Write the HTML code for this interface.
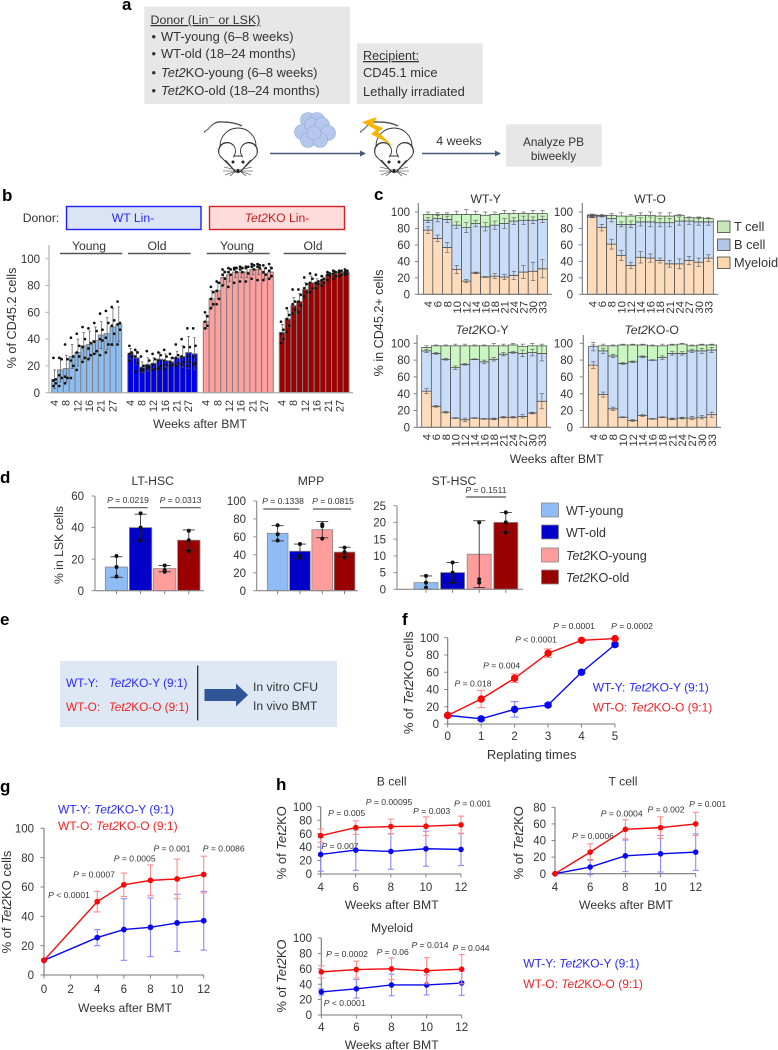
<!DOCTYPE html>
<html lang="en">
<head>
<meta charset="utf-8">
<title>Tet2KO bone marrow transplant figure</title>
<style>
html,body{margin:0;padding:0;background:#fff;}
svg{display:block;filter:blur(0.3px);}
text{font-family:"Liberation Sans",sans-serif;fill:#333;font-size:12.2px;}
.ltr{font-weight:bold;font-size:17px;fill:#000;}
.p{font-size:8.6px;fill:#333;text-anchor:middle;}
.mid{text-anchor:middle;}
.blue{fill:#2a2aff;}
.red{fill:#f02424;}
.t{font-size:11.8px;}
.a{font-size:12.9px;}
.big{font-size:13px;}
.i{font-style:italic;}
</style>
</head>
<body>
<svg id="fig" width="778" height="1050" viewBox="0 0 778 1050" xmlns="http://www.w3.org/2000/svg">
<defs>
<g id="mouse">
<path d="M-34,132 C-28,130 -26,121 -16,122 C-8,122 -2,123 4,126" fill="none" stroke="#555" stroke-width="1.6"/>
<path d="M-33,132 C-28,130 -26,122 -16,123 C-8,123 -2,124 4,127" fill="none" stroke="#fff" stroke-width="0.6"/>
<ellipse cx="0" cy="146" rx="18" ry="18" fill="#fff" stroke="#333" stroke-width="0.9"/>
<path d="M-16,156 L-3,171 Q0,174 3,171 L16,156 Z" fill="#fff" stroke="#333" stroke-width="0.9"/>
<circle cx="-11" cy="151" r="8.5" fill="#fff" stroke="#333" stroke-width="0.9"/>
<circle cx="11" cy="151" r="8.5" fill="#fff" stroke="#333" stroke-width="0.9"/>
<path d="M-17,156 Q-11,146 -5,148 L-5,160 L-16,160 Z" fill="#fff"/>
<path d="M17,156 Q11,146 5,148 L5,160 L16,160 Z" fill="#fff"/>
<path d="M-19,153 A8.5,8.5 0 0 1 -4,146 M19,153 A8.5,8.5 0 0 0 4,146 M-18,156 L-3,171 Q0,174 3,171 L18,156" fill="none" stroke="#333" stroke-width="0.9"/>
<circle cx="-5" cy="162" r="1.5" fill="#222"/><circle cx="5" cy="162" r="1.5" fill="#222"/>
<circle cx="0" cy="170.5" r="1.6" fill="#222"/>
<path d="M-2,170 L-14,167 M-2,171 L-15,171 M-2,171 L-13,175 M-2,171 L-8,176 M2,170 L14,167 M2,171 L15,171 M2,171 L13,175 M2,171 L8,176" stroke="#333" stroke-width="0.6" fill="none"/>
</g>
</defs>

<!-- panel a -->
<g>
<text class="ltr" x="122" y="10">a</text>
<rect x="144.3" y="6.7" width="205.7" height="97.3" fill="#e7e7e7"/>
<text x="150.5" y="24" text-decoration="underline" style="font-size:12.4px">Donor (Lin⁻ or LSK)</text>
<text x="151.5" y="41" class="a">•</text>
<text x="161" y="41" class="a">WT-young (6–8 weeks)</text>
<text x="151.5" y="58" class="a">•</text>
<text x="161" y="58" class="a">WT-old (18–24 months)</text>
<text x="151.5" y="77" class="a">•</text>
<text x="161" y="77" class="a"><tspan class="i">Tet2</tspan>KO-young (6–8 weeks)</text>
<text x="151.5" y="95" class="a">•</text>
<text x="161" y="95" class="a"><tspan class="i">Tet2</tspan>KO-old (18–24 months)</text>
<rect x="357" y="43.3" width="125.7" height="60.7" fill="#e7e7e7"/>
<text x="363" y="60" text-decoration="underline" style="font-size:12.6px">Recipient:</text>
<text x="363" y="77" class="a">CD45.1 mice</text>
<text x="363" y="96" class="a">Lethally irradiated</text>
<use href="#mouse" transform="translate(238,0)"/>
<use href="#mouse" transform="translate(394,0)"/>
<g fill="#b6c7ec" stroke="#8fa6dd" stroke-width="0.6">
<circle cx="308" cy="120" r="7.5"/><circle cx="317" cy="120" r="7.5"/><circle cx="302" cy="132" r="7.5"/><circle cx="312" cy="125" r="7.5"/><circle cx="322" cy="125" r="7.5"/><circle cx="328" cy="133" r="7.5"/><circle cx="308" cy="140" r="7.5"/><circle cx="320" cy="140" r="7.5"/><circle cx="314" cy="133" r="7"/>
</g>
<polygon points="362,122 377,117 373,124 383,128 378,132 393,146 371,134 376,130" fill="#f7b500"/>
<g><line x1="270" y1="153.5" x2="362" y2="153.5" stroke="#44597a" stroke-width="1.5"/><polygon points="366,153.5 360,150.5 360,156.5" fill="#44597a"/></g>
<g><line x1="422" y1="153.5" x2="497" y2="153.5" stroke="#44597a" stroke-width="1.5"/><polygon points="501,153.5 495,150.5 495,156.5" fill="#44597a"/></g>
<text x="459" y="145" class="mid" style="font-size:12.4px">4 weeks</text>
<rect x="506" y="124.3" width="95.7" height="42.4" fill="#e7e7e7"/>
<text x="553.5" y="146" class="mid t">Analyze PB</text>
<text x="553.5" y="160" class="mid t">biweekly</text>
</g>

<!-- panel b -->
<g id="panelB">
<text class="ltr" x="2" y="201">b</text>
<text x="22.7" y="222">Donor:</text>
<rect x="66.5" y="206.5" width="134.5" height="23" fill="#dbe4f4" stroke="#2020ff" stroke-width="1.4"/>
<text x="133" y="222" class="mid blue">WT Lin-</text>
<rect x="209.5" y="206.5" width="135" height="23" fill="#ffdcdc" stroke="#d02020" stroke-width="1.4"/>
<text x="277" y="222" class="mid" style="fill:#c81e1e"><tspan class="i">Tet2</tspan>KO Lin-</text>
<text x="89" y="250" class="mid">Young</text>
<text x="157" y="250" class="mid">Old</text>
<text x="237" y="250" class="mid">Young</text>
<text x="313" y="250" class="mid">Old</text>
<g stroke="#555" stroke-width="1.4">
<line x1="60" x2="122.3" y1="253.5" y2="253.5"/><line x1="128" x2="190.7" y1="253.5" y2="253.5"/><line x1="206.7" x2="269.7" y1="253.5" y2="253.5"/><line x1="283.7" x2="346" y1="253.5" y2="253.5"/>
</g>
<text x="200" y="428" class="mid">Weeks after BMT</text>
<text transform="translate(16,318) rotate(-90)" class="mid" style="font-size:12.7px">% of CD45.2 cells</text>
</g>

<!-- panel c -->
<g id="panelC">
<text class="ltr" x="374" y="200">c</text>
<text x="485.7" y="203" class="mid">WT-Y</text>
<text x="650" y="203" class="mid">WT-O</text>
<text x="482" y="334" class="mid"><tspan class="i">Tet2</tspan>KO-Y</text>
<text x="651.7" y="334" class="mid"><tspan class="i">Tet2</tspan>KO-O</text>
<text transform="translate(383,323) rotate(-90)" class="mid" style="font-size:12.6px">% in CD45.2+ cells</text>
<text x="556.7" y="463" class="mid">Weeks after BMT</text>
<g>
<rect x="717.5" y="221" width="12.5" height="11.5" fill="#c8e6b8" stroke="#444" stroke-width="0.8"/>
<text x="734" y="231" style="font-size:12.8px">T cell</text>
<rect x="717.5" y="239" width="12.5" height="11.5" fill="#b4c7e7" stroke="#444" stroke-width="0.8"/>
<text x="734" y="249" style="font-size:12.8px">B cell</text>
<rect x="717.5" y="257" width="12.5" height="11.5" fill="#fad7ac" stroke="#444" stroke-width="0.8"/>
<text x="734" y="267" style="font-size:12.8px">Myeloid</text>
</g>
</g>

<!-- panel d -->
<g id="panelD">
<text class="ltr" x="0" y="483">d</text>
<text x="152.7" y="485" class="mid">LT-HSC</text>
<text x="311" y="485" class="mid">MPP</text>
<text x="454" y="485" class="mid">ST-HSC</text>
<text transform="translate(63,545) rotate(-90)" class="mid">% in LSK cells</text>
<g stroke="#555" stroke-width="1.2">
<line x1="108" x2="147.7" y1="507.7" y2="507.7"/><line x1="160" x2="200.7" y1="507.7" y2="507.7"/>
<line x1="263.3" x2="299.3" y1="509" y2="509"/><line x1="313" x2="351" y1="509" y2="509"/>
<line x1="466" x2="506" y1="497" y2="497"/>
</g>
<text x="128" y="503" class="p"><tspan class="i">P</tspan> = 0.0219</text>
<text x="180.5" y="503" class="p"><tspan class="i">P</tspan> = 0.0313</text>
<text x="283" y="504" class="p"><tspan class="i">P</tspan> = 0.1338</text>
<text x="333" y="504" class="p"><tspan class="i">P</tspan> = 0.0815</text>
<text x="486" y="493" class="p"><tspan class="i">P</tspan> = 0.1511</text>
<g>
<rect x="541.5" y="503" width="17" height="14" fill="#8fbcf4" stroke="#888" stroke-width="0.8"/>
<text x="566" y="515" style="font-size:12.6px">WT-young</text>
<rect x="541.5" y="525" width="17" height="14" fill="#0000c8" stroke="#888" stroke-width="0.8"/>
<text x="566" y="537" style="font-size:12.6px">WT-old</text>
<rect x="541.5" y="548" width="17" height="14" fill="#ff9c9c" stroke="#888" stroke-width="0.8"/>
<text x="566" y="560" style="font-size:12.6px"><tspan class="i">Tet2</tspan>KO-young</text>
<rect x="541.5" y="570" width="17" height="14" fill="#990000" stroke="#888" stroke-width="0.8"/>
<text x="566" y="582" style="font-size:12.6px"><tspan class="i">Tet2</tspan>KO-old</text>
</g>
</g>

<!-- panel e -->
<g>
<text class="ltr" x="0" y="625">e</text>
<rect x="60" y="661" width="277" height="66" fill="#dde8f4"/>
<text x="66" y="687" class="blue t">WT-Y:</text>
<text x="108.7" y="687" class="blue t"><tspan class="i">Tet2</tspan>KO-Y (9:1)</text>
<text x="66" y="711" class="red t">WT-O:</text>
<text x="108.7" y="711" class="red t"><tspan class="i">Tet2</tspan>KO-O (9:1)</text>
<line x1="197.7" x2="197.7" y1="665.5" y2="720.5" stroke="#222" stroke-width="1.2"/>
<polygon points="204.5,689 236,689 236,683.5 248,695 236,706.5 236,701 204.5,701" fill="#2f5597"/>
<text x="253" y="691">In vitro CFU</text>
<text x="253" y="710">In vivo BMT</text>
</g>

<!-- panel f -->
<g id="panelF">
<text class="ltr" x="402" y="625">f</text>
<text transform="translate(413,682.7) rotate(-90)" class="mid big">% of <tspan class="i">Tet2</tspan>KO cells</text>
<text x="531.7" y="759" class="mid big">Replating times</text>
<text x="592.7" y="691.7" class="blue" style="font-size:12px">WT-Y: <tspan class="i">Tet2</tspan>KO-Y (9:1)</text>
<text x="592.7" y="711.7" class="red" style="font-size:12px">WT-O: <tspan class="i">Tet2</tspan>KO-O (9:1)</text>
<text x="473" y="686.7" class="p"><tspan class="i">P</tspan> = 0.018</text>
<text x="501.7" y="668.7" class="p"><tspan class="i">P</tspan> = 0.004</text>
<text x="536" y="642.7" class="p"><tspan class="i">P</tspan> &lt; 0.0001</text>
<text x="574" y="629" class="p"><tspan class="i">P</tspan> = 0.0001</text>
<text x="632" y="629" class="p"><tspan class="i">P</tspan> = 0.0002</text>
</g>

<!-- panel g -->
<g id="panelG">
<text class="ltr" x="0" y="792">g</text>
<text x="58" y="813.3" class="blue" style="font-size:12px">WT-Y: <tspan class="i">Tet2</tspan>KO-Y (9:1)</text>
<text x="58" y="830" class="red" style="font-size:12px">WT-O: <tspan class="i">Tet2</tspan>KO-O (9:1)</text>
<text transform="translate(11,902) rotate(-90)" class="mid big">% of <tspan class="i">Tet2</tspan>KO cells</text>
<text x="125" y="1012" class="mid">Weeks after BMT</text>
<text x="69" y="898" class="p"><tspan class="i">P</tspan> &lt; 0.0001</text>
<text x="94" y="877.7" class="p"><tspan class="i">P</tspan> = 0.0007</text>
<text x="134.7" y="861.7" class="p"><tspan class="i">P</tspan> = 0.0005</text>
<text x="172" y="851.7" class="p"><tspan class="i">P</tspan> = 0.001</text>
<text x="223.7" y="851.7" class="p"><tspan class="i">P</tspan> = 0.0086</text>
</g>

<!-- panel h -->
<g id="panelH">
<text class="ltr" x="276" y="790">h</text>
<text x="391.7" y="785.7" class="mid">B cell</text>
<text transform="translate(286,842.7) rotate(-90)" class="mid big">% of <tspan class="i">Tet2</tspan>KO</text>
<text x="391.7" y="909" class="mid">Weeks after BMT</text>
<text x="346.7" y="816" class="p"><tspan class="i">P</tspan> = 0.005</text>
<text x="389" y="805" class="p"><tspan class="i">P</tspan> = 0.00095</text>
<text x="431.7" y="814" class="p"><tspan class="i">P</tspan> = 0.003</text>
<text x="472.7" y="806.7" class="p"><tspan class="i">P</tspan> = 0.001</text>
<text x="340" y="849" class="p"><tspan class="i">P</tspan> = 0.007</text>
<text x="623" y="785.7" class="mid">T cell</text>
<text transform="translate(523,842.7) rotate(-90)" class="mid big">% of <tspan class="i">Tet2</tspan>KO</text>
<text x="626" y="909" class="mid">Weeks after BMT</text>
<text x="593" y="839" class="p"><tspan class="i">P</tspan> = 0.0006</text>
<text x="621.7" y="816.7" class="p"><tspan class="i">P</tspan> = 0.0004</text>
<text x="666" y="812.7" class="p"><tspan class="i">P</tspan> = 0.002</text>
<text x="707.7" y="807" class="p"><tspan class="i">P</tspan> = 0.001</text>
<text x="392" y="932" class="mid">Myeloid</text>
<text transform="translate(286,976) rotate(-90)" class="mid big">% of <tspan class="i">Tet2</tspan>KO</text>
<text x="391.7" y="1049" class="mid">Weeks after BMT</text>
<text x="347" y="957" class="p"><tspan class="i">P</tspan> = 0.0002</text>
<text x="392.7" y="955" class="p"><tspan class="i">P</tspan> = 0.06</text>
<text x="430" y="948" class="p"><tspan class="i">P</tspan> = 0.014</text>
<text x="471" y="951" class="p"><tspan class="i">P</tspan> = 0.044</text>
<text x="344.7" y="1006" class="p"><tspan class="i">P</tspan> &lt; 0.0001</text>
<text x="523.3" y="967.7" class="blue" style="font-size:12px">WT-Y: <tspan class="i">Tet2</tspan>KO-Y (9:1)</text>
<text x="523.3" y="988" class="red" style="font-size:12px">WT-O: <tspan class="i">Tet2</tspan>KO-O (9:1)</text>
</g>
</svg>

<script>
// ---- panel b data ----
const bWeekLabels = ['4','8','12','16','21','27'];
const bYTicks = [0,20,40,60,80,100];
const bWtYoungMeans = [10,17,18,27,30,35,36,39,43,44,49,51];
const bWtYoungErr = [7,9,10,9,10,10,10,10,10,12,14,13];
const bWtYoungDots = [[5,7,9,10,26],[5,11,13,25,26],[7,11,12,25,36],[11,20,24,27,41],[17,27,30,35,44],[23,26,34,40,49],[25,28,33,37,48],[29,31,38,46,52],[28,39,40,47,59],[30,36,41,52,61],[36,44,50,54,64],[36,47,51,52,68]];
const bWtOldMeans = [29,26,19,21,22,25,24,23,26,27,30,29];
const bWtOldErr = [4,5,4,5,4,5,5,3,5,8,12,12];
const bWtOldDots = [[24,27,29,30,35],[16,22,27,30,32],[16,17,18,20,27],[18,19,20,24,31],[17,18,21,25,29],[18,20,24,28,30],[18,21,24,27,32],[20,21,23,26,29],[20,22,26,28,36],[21,23,27,34,40],[20,23,27,34,48],[21,22,27,35,48]];
const bKoYoungMeans = [53,70,76,86,88,90,90,90,92,92,89,90];
const bKoYoungErr = [5,6,6,5,5,4,4,4,4,4,4,4];
const bKoYoungDots = [[48,50,53,57,60],[63,66,70,75,79],[66,70,76,82,83],[80,85,88,90,92],[79,88,90,92,93],[82,90,92,93,93],[83,90,92,93,94],[83,89,93,94,94],[85,92,94,95,96],[84,93,94,95,96],[84,88,90,93,95],[85,87,91,93,96]];
const bKoOldMeans = [45,55,65,68,77,82,82,84,88,89,90,90];
const bKoOldErr = [6,6,6,6,5,5,3,3,2,2,1,1];
const bKoOldDots = [[37,40,44,47,53],[45,50,55,58,63],[59,62,66,68,77],[60,65,68,73,77],[72,75,78,81,86],[75,78,82,85,89],[78,81,82,83,88],[80,82,84,85,87],[84,87,88,89,90],[85,87,89,90,91],[87,88,90,91,91],[88,89,90,91,92]];

// ---- panel c data ----
const cWeeks = ['4','6','8','10','12','14','16','18','21','24','27','30','33'];
const cYTicks = [0,20,40,60,80,100];
const cWtYMyeloid = [78,68,57,30,16,26,21,22,21,23,27,28,31];
const cWtYBcell = [12,24,34,54,65,60,61,62,65,66,63,62,60];
const cWtYTcell = [7,5,6,13,16,11,14,13,12,9,8,8,7];
const cWtYErrM = [4,4,6,5,2,1,0.5,3,3,5,8,11,11];
const cWtYErrB = [3,4,4,4,6,4,5,5,6,4,5,4,4];
const cWtYErrT = [3,2,2,4,6,4,4,3,4,4,2,4,4];
const cWtOMyeloid = [94,81,61,47,35,45,44,41,37,37,41,39,44];
const cWtOBcell = [2,14,31,38,50,43,44,46,50,52,48,49,44];
const cWtOTcell = [0.5,1,4,10,10,8,8,8,8,7,4,5,4];
const cWtOErrM = [1,4,6,6,4,7,5,3,4,6,5,5,4];
const cWtOErrB = [0.5,1,4,3,4,5,6,5,5,5,4,4,4];
const cWtOErrT = [1,1,2,4,2,3,4,4,4,1,1,1,1];
const cKoYMyeloid = [43,25,18,11,9,11,10,10,12,12,13,17,31];
const cKoYBcell = [48,63,63,60,66,70,68,71,75,77,75,72,57];
const cKoYTcell = [4,9,16,26,22,16,19,16,10,9,8,8,9];
const cKoYErrM = [3,1,1,0.5,2,0.5,0.5,1,1,1,2,1,9];
const cKoYErrB = [2,1,1,2,1,0.5,2,2,2,1,4,4,9];
const cKoYErrT = [2,1,1,2,2,1,1,3,2,2,3,3,2];
const cKoOMyeloid = [74,39,22,12,8,14,10,12,10,11,11,12,15];
const cKoOBcell = [22,52,63,64,70,70,70,71,78,77,80,79,77];
const cKoOTcell = [0,6,12,22,20,14,17,14,10,11,6,7,6];
const cKoOErrM = [4,3,2,0.5,1,1,0.5,0.5,1,1,2,2,3];
const cKoOErrB = [5,3,2,1,1,1,0.5,2,2,2,2,3,3];
const cKoOErrT = [2,2,1,1,1,1,1,2,1,1,1,1,1];

// ---- panel d data ----
const dLtTicks = [0,20,40,60];
const dLtMeans = [15,40,14,32];
const dLtErr = [6.5,8.5,2,6.5];
const dLtDots = [[9,15,22],[32,40,49],[12,13,16],[25,32,38]];
const dMppTicks = [0,20,40,60,80,100];
const dMppMeans = [64,44,68,43];
const dMppErr = [8.5,8,9,5.5];
const dMppDots = [[56,63,73],[37,39,52],[58,72,74],[37,43,48]];
const dStTicks = [0,5,10,15,20,25];
const dStMeans = [2,5,10.5,20];
const dStErr = [2,3,10,3];
const dStDots = [[0.5,2,4],[2,5,8],[2,3,20],[17,20,23]];

// ---- panel f data ----
const fX = [0,1,2,3,4,5];
const fYTicks = [0,20,40,60,80,100];
const fRed = [10,29,53,82,97,99];
const fRedErr = [0,10,5,5,1,1];
const fBlue = [10,6,17,22,60,92];
const fBlueErr = [0,2,9,2,2,2];

// ---- panel g data ----
const gXTicks = [0,2,4,6,8,10,12];
const gYTicks = [0,20,40,60,80,100];
const gX = [0,4,6,8,10,12];
const gRed = [10,50,61.5,64.5,65.5,68.5];
const gRedErr = [0,7,8,10.5,13.5,12.5];
const gBlue = [10,25.5,31,32.5,35.5,37];
const gBlueErr = [0,5.5,21,20,19.5,20];

// ---- panel h data ----
const hX = [4,6,8,10,12];
const hTicks100 = [0,20,40,60,80,100];
const hTicks80 = [0,20,40,60,80];
const hBRed = [57,69,70.5,71,73];
const hBRedErr = [10,10,11,14,13];
const hBBlue = [29,35.5,33.5,37.5,36.5];
const hBBlueErr = [25,30,26.5,26,24];
const hTRed = [0,26,53.5,55.5,60];
const hTRedErr = [0,10,11.5,13,14];
const hTBlue = [0,8,21.5,24,26];
const hTBlueErr = [0,9,19,22,22];
const hMRed = [56,59,60,57.5,59.5];
const hMRedErr = [8,11,14,17,19];
const hMBlue = [30,34,39,39,41.5];
const hMBlueErr = [4,12,14,13,16];

// ---- helpers ----
const NS = 'http://www.w3.org/2000/svg';
function make(tag, parent, attrs) {
  const e = document.createElementNS(NS, tag);
  for (const k in attrs) e.setAttribute(k, attrs[k]);
  parent.appendChild(e);
  return e;
}
function linear(d0, d1, r0, r1) {
  return function (v) { return r0 + (v - d0) * (r1 - r0) / (d1 - d0); };
}
function drawYAxis(parent, x, yTop, yScale, ticks, labelX, size, color) {
  const ax = make('line', parent, {x1: x, x2: x, y1: yTop, y2: yScale(0), stroke: color, 'stroke-width': 1.1});
  
  
  ticks.forEach(function (v) {
    const y = yScale(v);
    const tk = make('line', parent, {x1: x - 3.5, x2: x, y1: y, y2: y, stroke: color, 'stroke-width': 0.9});
    
    
    const lb = make('text', parent, {x: labelX, y: y + size * 0.36, 'text-anchor': 'end', style: 'font-size:' + size + 'px'});
    
    
    lb.textContent = String(v);
  });
}
function drawXLine(parent, x0, x1, y, color) {
  const ax = make('line', parent, {x1: x0, x2: x1, y1: y, y2: y, stroke: color, 'stroke-width': 1.1});
  
  
}
function rotatedLabel(parent, x, y, txt, size) {
  const lb = make('text', parent, {transform: 'translate(' + (x + size * 0.36) + ',' + y + ') rotate(-90)', 'text-anchor': 'end', style: 'font-size:' + size + 'px'});
  
  
  lb.textContent = txt;
}
function errLine(parent, x, yHi, yLo, cap, color, w) {
  const g = make('g', parent, {stroke: color, 'stroke-width': w, fill: 'none'});
  
  
  make('line', g, {x1: x, x2: x, y1: yHi, y2: yLo});
  make('line', g, {x1: x - cap, x2: x + cap, y1: yHi, y2: yHi});
  make('line', g, {x1: x - cap, x2: x + cap, y1: yLo, y2: yLo});
}

// ---- panel b ----
const panelB = document.getElementById('panelB');
const bY = linear(0, 100, 392.7, 258.7);
drawYAxis(panelB, 49, 245, bY, bYTicks, 40, 11.5, '#aaa');
function drawBGroup(x0, x1, means, errs, dots, fill) {
  const bx = linear(0, means.length, x0, x1);
  const w = (x1 - x0) / means.length;
  means.forEach(function (m, i) {
    const bar = make('rect', panelB, {x: bx(i), y: bY(m), width: w, height: bY(0) - bY(m), fill: fill, stroke: '#808080', 'stroke-width': 1});
    
    
  });
  means.forEach(function (m, i) {
    const c = bx(i) + w / 2;
    errLine(panelB, c, bY(m + errs[i]), bY(m - errs[i]), 1.3, '#555', 0.7);
    dots[i].forEach(function (d, j) {
      const dot = make('circle', panelB, {cx: c + (j % 2 ? 1.2 : -1.2), cy: bY(d), r: 1.35, fill: '#111'});
      
      
    });
  });
  bWeekLabels.forEach(function (t, k) {
    rotatedLabel(panelB, bx(k * 2) + w / 2 - 0.5, 400, t, 10.8);
  });
}
drawBGroup(51.7, 121.7, bWtYoungMeans, bWtYoungErr, bWtYoungDots, '#8dbcf0');
drawBGroup(127.7, 197.3, bWtOldMeans, bWtOldErr, bWtOldDots, '#0000e6');
drawBGroup(203.3, 273.3, bKoYoungMeans, bKoYoungErr, bKoYoungDots, '#ff9f9f');
drawBGroup(279.3, 349, bKoOldMeans, bKoOldErr, bKoOldDots, '#9c0000');
drawXLine(panelB, 49, 353, bY(0), '#aaa');

// ---- panel c ----
const panelC = document.getElementById('panelC');
function drawStack(axisX, x0, x1, axisEnd, y100, y0, yTop, labelRight, labelY, myeloid, bcell, tcell, errM, errB, errT) {
  const y = linear(0, 100, y0, y100);
  drawYAxis(panelC, axisX, yTop, y, cYTicks, labelRight, 11.5, '#777');
  const bx = linear(0, myeloid.length, x0, x1);
  const w = (x1 - x0) / myeloid.length;
  myeloid.forEach(function (m, i) {
    const mTop = m;
    const bTop = m + bcell[i];
    const tTop = bTop + tcell[i];
    const r1 = make('rect', panelC, {x: bx(i), y: y(mTop), width: w, height: y(0) - y(mTop), fill: '#fcdcbc', stroke: '#444', 'stroke-width': 0.7});
    
    
    const r2 = make('rect', panelC, {x: bx(i), y: y(bTop), width: w, height: y(mTop) - y(bTop), fill: '#c9dcf8', stroke: '#444', 'stroke-width': 0.7});
    
    
    const r3 = make('rect', panelC, {x: bx(i), y: y(tTop), width: w, height: y(bTop) - y(tTop), fill: '#ccf5c4', stroke: '#444', 'stroke-width': 0.7});
    
    
  });
  myeloid.forEach(function (m, i) {
    const c = bx(i) + w / 2;
    const bTop = m + bcell[i];
    const tTop = bTop + tcell[i];
    errLine(panelC, c, y(m + errM[i]), y(m - errM[i]), 2.2, '#555', 0.6);
    errLine(panelC, c, y(bTop + errB[i]), y(bTop - errB[i]), 2.2, '#555', 0.6);
    errLine(panelC, c, y(tTop + errT[i]), y(tTop), 2.2, '#555', 0.6);
    rotatedLabel(panelC, c, labelY, cWeeks[i], 11.4);
  });
  drawXLine(panelC, axisX, axisEnd, y(0), '#777');
}
drawStack(418.3, 423.3, 547.3, 552, 212, 294.3, 203, 410, 301, cWtYMyeloid, cWtYBcell, cWtYTcell, cWtYErrM, cWtYErrB, cWtYErrT);
drawStack(582.3, 587.3, 713.3, 718, 212, 294.3, 203, 573, 301, cWtOMyeloid, cWtOBcell, cWtOTcell, cWtOErrM, cWtOErrB, cWtOErrT);
drawStack(417, 421.7, 546.7, 551, 343.3, 427.3, 335, 410, 434, cKoYMyeloid, cKoYBcell, cKoYTcell, cKoYErrM, cKoYErrB, cKoYErrT);
drawStack(583.3, 588.3, 716.7, 721, 343.3, 427.3, 335, 573, 434, cKoOMyeloid, cKoOBcell, cKoOTcell, cKoOErrM, cKoOErrB, cKoOErrT);

// ---- panel d ----
const panelD = document.getElementById('panelD');
const dFills = ['#8fbcf4', '#0000c8', '#ff9c9c', '#990000'];
function drawD(axisX, axisEnd, topVal, yTopPx, y0, ticks, labelRight, x0, w, step, means, errs, dots) {
  const y = linear(0, topVal, y0, yTopPx);
  drawYAxis(panelD, axisX, yTopPx, y, ticks, labelRight, 11.5, '#888');
  means.forEach(function (m, i) {
    const x = x0 + i * step;
    const bar = make('rect', panelD, {x: x, y: y(m), width: w, height: y(0) - y(m), fill: dFills[i], stroke: '#888', 'stroke-width': 0.8});
    
    
    const c = x + w / 2;
    const tk = make('line', panelD, {x1: c, x2: c, y1: y0, y2: y0 + 3.5, stroke: '#777', 'stroke-width': 0.9});
    
    
    errLine(panelD, c, y(m + errs[i]), y(m - errs[i]), 6, '#222', 0.8);
    dots[i].forEach(function (d, j) {
      const dot = make('circle', panelD, {cx: c, cy: y(d), r: 2, fill: '#111'});
      
      
    });
  });
  drawXLine(panelD, axisX, axisEnd, y0, '#888');
}
drawD(95, 204, 60, 496, 590.7, dLtTicks, 84, 105.3, 22.4, 24.1, dLtMeans, dLtErr, dLtDots);
drawD(256.7, 358, 100, 501, 590.7, dMppTicks, 246, 267.3, 20.7, 22.3, dMppMeans, dMppErr, dMppDots);
drawD(397, 523, 25, 505.7, 589.3, dStTicks, 386, 414, 24, 26.6, dStMeans, dStErr, dStDots);

// ---- line panels ----
function drawLinePanel(parent, x, y, xTicks, yTicks, axisTop, yLabelRight, xLabelBase, xs, red, redErr, blue, blueErr, r, cap) {
  const axisX = x(xTicks[0]);
  const axisY = y(0);
  const axisColor = '#777';
  drawYAxis(parent, axisX, axisTop, y, yTicks, yLabelRight, 11.5, axisColor);
  drawXLine(parent, axisX, x(xTicks[xTicks.length - 1]), axisY, axisColor);
  xTicks.forEach(function (v) {
    const tk = make('line', parent, {x1: x(v), x2: x(v), y1: axisY, y2: axisY + 3.5, stroke: axisColor, 'stroke-width': 0.9});
    
    
    const lb = make('text', parent, {x: x(v), y: xLabelBase, 'text-anchor': 'middle', style: 'font-size:11.5px'});
    
    
    lb.textContent = String(v);
  });
  function series(vals, errs, lineColor, errColor, name) {
    const g = make('g', parent, {});
    
    
    vals.forEach(function (v, i) {
      if (errs[i] > 0) errLine(g, x(xs[i]), y(v + errs[i]), y(v - errs[i]), cap, errColor, 1.1);
    });
    const pts = vals.map(function (v, i) { return x(xs[i]) + ',' + y(v); }).join(' ');
    const line = make('polyline', g, {points: pts, fill: 'none', stroke: lineColor, 'stroke-width': 1.4});
    
    
    vals.forEach(function (v, i) {
      const m = make('circle', g, {cx: x(xs[i]), cy: y(v), r: r, fill: lineColor});
      
      
    });
  }
  series(blue, blueErr, '#0808f0', '#8a8aff', 'series-tet2ko-young');
  series(red, redErr, '#f80808', '#ff8c8c', 'series-tet2ko-old');
}
const panelF = document.getElementById('panelF');
drawLinePanel(panelF, linear(0, 5, 447.7, 615), linear(0, 100, 724, 637.7), fX, fYTicks, 637.7, 439, 740, fX, fRed, fRedErr, fBlue, fBlueErr, 3.7, 4);
const panelG = document.getElementById('panelG');
drawLinePanel(panelG, linear(0, 12, 44, 203.7), linear(0, 100, 975, 828.3), gXTicks, gYTicks, 828.3, 34, 993, gX, gRed, gRedErr, gBlue, gBlueErr, 2.9, 3.2);
const panelH = document.getElementById('panelH');
drawLinePanel(panelH, linear(4, 12, 320.7, 461), linear(0, 100, 874, 806.7), hX, hTicks100, 806.7, 312, 891, hX, hBRed, hBRedErr, hBBlue, hBBlueErr, 2.8, 3);
drawLinePanel(panelH, linear(4, 12, 555, 695.7), linear(0, 80, 873.7, 807.3), hX, hTicks80, 807.3, 546, 891, hX, hTRed, hTRedErr, hTBlue, hTBlueErr, 2.8, 3);
drawLinePanel(panelH, linear(4, 12, 321.3, 461.7), linear(0, 100, 1015, 938), hX, hTicks100, 938, 312, 1031, hX, hMRed, hMRedErr, hMBlue, hMBlueErr, 2.8, 3);
</script>
</body>
</html>
